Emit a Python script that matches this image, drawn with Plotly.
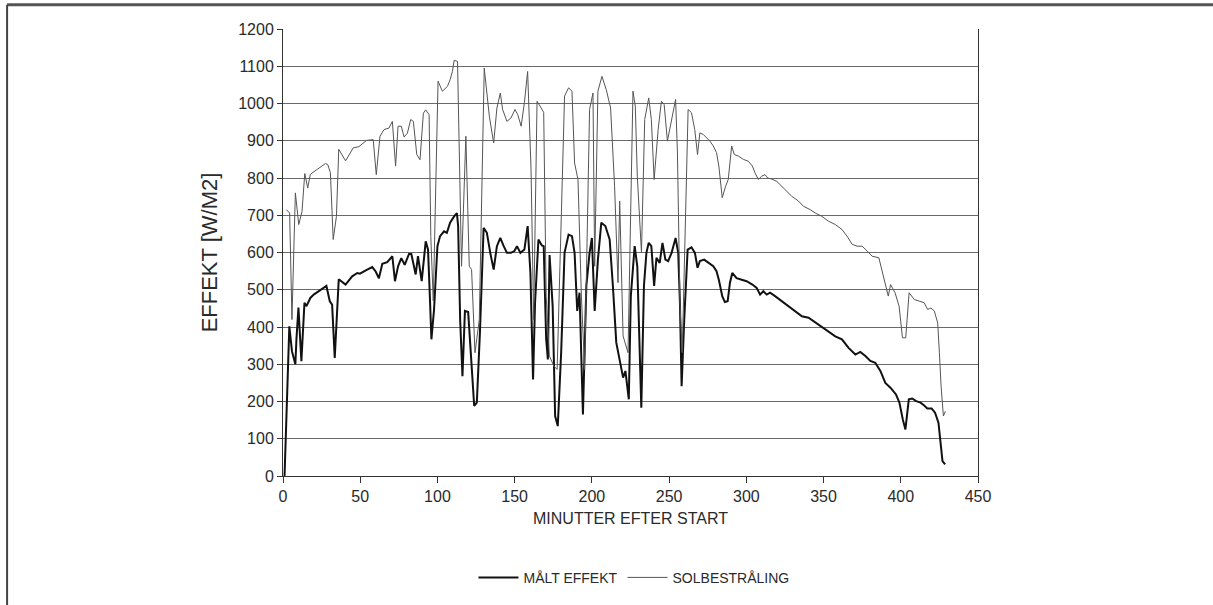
import plotly.graph_objects as go

# MÅLT EFFEKT (measured power)
malt_min = [1.0, 3.0, 4.1, 5.8, 6.9, 8.0, 8.7, 10.0, 11.9, 13.9, 15.2, 17.7, 19.9, 23.2, 26.4, 28.1, 30.3, 31.8,
            33.5, 35.1, 36.1, 40.5, 44.8, 48.1, 49.8, 54.5, 57.8, 60.0, 62.1, 64.3, 67.5, 70.8, 72.5, 74.5, 76.6,
            78.8, 81.6, 83.1, 85.9, 87.4, 89.8, 92.4, 93.9, 95.0, 96.1, 97.8, 100.0, 101.7, 104.3, 106.1, 108.2,
            110.8, 112.6, 113.4, 114.7, 116.2, 117.8, 119.9, 121.6, 123.8, 125.5, 127.5, 129.9, 132.0, 134.2,
            136.4, 138.5, 140.7, 142.9, 145.0, 147.6, 149.8, 151.5, 153.7, 156.3, 158.4, 160.2, 161.9, 163.2,
            165.4, 167.6, 168.8, 170.4, 171.5, 172.6, 174.6, 176.2, 177.9, 180.1, 182.3, 184.9, 187.1, 188.8,
            190.5, 192.0, 194.2, 196.4, 198.5, 200.0, 201.8, 203.9, 206.1, 208.7, 211.5, 213.6, 215.8, 220.2,
            221.7, 223.9, 225.2, 227.7, 229.4, 232.0, 233.7, 235.3, 236.8, 238.5, 240.3, 241.8, 243.9, 245.7,
            247.6, 249.4, 251.6, 254.2, 255.9, 257.0, 258.1, 259.8, 262.0, 264.5, 266.7, 268.4, 269.9, 272.7,
            275.3, 278.6, 280.7, 282.2, 284.4, 286.1, 287.9, 289.4, 290.9, 293.7, 297.0, 300.2, 303.9, 306.7,
            308.9, 311.0, 313.2, 315.4, 318.6, 323.0, 327.3, 331.6, 336.0, 340.3, 344.6, 348.9, 353.2, 357.6,
            361.9, 366.2, 370.6, 373.8, 377.1, 380.3, 383.5, 386.8, 390.0, 393.3, 396.9, 399.1, 401.3, 403.0,
            405.2, 407.4, 410.0, 412.8, 415.0, 417.2, 420.0, 422.2, 424.4, 425.9, 427.0, 428.7]
malt_val = [0, 250, 402, 335, 313, 300, 367, 452, 308, 465, 456, 478, 487, 496, 505, 510, 469, 460,
            317, 447, 528, 514, 536, 545, 543, 554, 561, 549, 531, 570, 574, 590, 523, 563, 585,
            567, 596, 596, 541, 590, 523, 630, 608, 492, 367, 447, 617, 644, 657, 653, 680,
            697, 706, 671, 420, 268, 443, 440, 322, 188, 197, 385, 666, 653, 599,
            554, 617, 639, 617, 599, 599, 604, 617, 599, 608, 671, 545, 259, 465,
            635, 619, 617, 367, 313, 593, 456, 161, 134, 331, 599, 648, 644, 599,
            443, 492, 165, 510, 599, 639, 443, 581, 680, 671, 635, 510, 358, 264,
            282, 206, 483, 617, 563, 183, 510, 599, 626, 617, 510, 586, 572, 626,
            581, 577, 599, 639, 599, 465, 241, 420, 608, 614, 599, 559, 577, 581,
            572, 563, 550, 527, 483, 467, 469, 519, 545, 531, 527, 523, 514, 505,
            487, 496, 487, 492, 483, 469, 456, 443, 429, 425, 413, 400, 389, 375,
            367, 344, 326, 333, 322, 309, 304, 282, 250, 237, 219, 197, 152, 125,
            206, 208, 201, 197, 190, 181, 181, 170, 143, 89, 40, 31]

# SOLBESTRÅLING (solar irradiance)
sol_min = [2.2, 4.3, 5.8, 8.0, 10.2, 12.3, 14.1, 16.0, 17.7, 23.2, 27.5, 29.0, 30.7, 32.5, 34.6, 36.1, 40.5,
           45.5, 49.1, 54.1, 58.4, 60.4, 62.8, 65.4, 68.6, 70.8, 72.9, 74.5, 76.6, 78.4, 80.5, 82.7, 84.4,
           86.6, 88.7, 90.9, 92.4, 94.6, 95.7, 97.3, 100.4, 103.2, 106.5, 108.2, 109.7, 110.8, 113.0, 115.6,
           118.4, 120.6, 122.1, 124.3, 127.1, 130.3, 133.6, 136.4, 138.5, 140.7, 142.2, 145.0, 147.6, 150.2,
           152.0, 154.2, 156.3, 158.4, 160.6, 162.3, 164.5, 166.7, 168.8, 170.4, 172.5, 175.4, 177.5, 182.3,
           184.9, 187.1, 188.8, 191.0, 193.2, 195.3, 198.5, 200.7, 201.8, 203.9, 206.5, 209.3, 212.1, 214.7,
           216.9, 218.0, 220.2, 223.4, 226.6, 228.1, 229.4, 232.1, 234.2, 236.8, 238.5, 240.3, 242.9, 245.0,
           246.8, 248.9, 251.6, 254.2, 255.4, 257.0, 258.5, 260.2, 262.3, 264.5, 266.6, 268.4, 269.9, 272.1,
           274.2, 276.4, 278.6, 280.7, 282.2, 284.4, 286.6, 288.3, 290.5, 292.2, 294.8, 298.1, 301.3, 303.9,
           305.6, 307.8, 310.0, 312.1, 313.9, 316.5, 319.7, 323.0, 326.2, 329.4, 333.8, 337.0, 341.4, 344.6,
           348.9, 353.2, 357.6, 361.9, 365.2, 368.5, 371.7, 375.0, 378.2, 381.5, 385.8, 388.4, 390.6, 391.9,
           393.4, 396.3, 398.9, 401.1, 403.2, 405.4, 408.7, 411.9, 415.2, 417.4, 419.5, 421.7, 423.9, 425.0,
           426.1, 427.6, 428.9]
sol_val = [715, 706, 420, 760, 675, 710, 812, 773, 810, 827, 839, 836, 814, 635, 697, 877, 846,
           881, 884, 901, 903, 809, 912, 930, 934, 952, 832, 939, 939, 910, 920, 957, 952,
           863, 849, 974, 983, 970, 643, 470, 1060, 1033, 1046, 1064, 1086, 1116, 1113, 563,
           912, 563, 554, 331, 420, 1095, 966, 894, 988, 1028, 984, 952, 961, 984,
           970, 939, 1002, 1086, 823, 420, 1006, 991, 976, 483, 322, 295, 286, 1020,
           1042, 1033, 840, 796, 483, 286, 984, 1028, 563, 1033, 1073, 1037, 988, 778,
           519, 738, 376, 331, 1033, 993, 805, 599, 957, 1015, 957, 796, 930, 1006,
           997, 899, 957, 1011, 867, 465, 331, 599, 984, 975, 930, 863, 921, 917,
           908, 899, 886, 868, 832, 747, 778, 796, 886, 863, 859, 850, 845, 832,
           814, 796, 805, 809, 800, 797, 791, 778, 764, 751, 738, 724, 715, 706,
           697, 684, 675, 662, 644, 622, 617, 617, 604, 590, 586, 545, 510, 483,
           514, 492, 456, 371, 371, 492, 474, 469, 465, 447, 451, 443, 411, 331,
           241, 161, 174]

x_ticks = [0, 50, 100, 150, 200, 250, 300, 350, 400, 450]
y_ticks = [0, 100, 200, 300, 400, 500, 600, 700, 800, 900, 1000, 1100, 1200]

FONT = "Liberation Sans, Arial, sans-serif"
INK = "#2a2a2a"

fig = go.Figure()
fig.add_trace(go.Scatter(x=malt_min, y=malt_val, mode="lines", name="MÅLT EFFEKT",
                         line=dict(color="#111111", width=2)))
fig.add_trace(go.Scatter(x=sol_min, y=sol_val, mode="lines", name="SOLBESTRÅLING",
                         line=dict(color="#555555", width=1)))

fig.update_layout(
    width=1213, height=605,
    margin=dict(l=283, r=235, t=29, b=128),
    paper_bgcolor="white", plot_bgcolor="white",
    font=dict(family=FONT, color=INK, size=15),
    showlegend=True,
    legend=dict(orientation="h", x=0.505, y=-0.225, xanchor="center", yanchor="middle",
                font=dict(size=14, family=FONT, color=INK), itemwidth=40,
                bgcolor="rgba(0,0,0,0)"),
    xaxis=dict(range=[0, 450], tickvals=x_ticks, ticktext=[str(v) for v in x_ticks],
               showgrid=False, zeroline=False, showline=True, linecolor="#333333", linewidth=1,
               mirror=False, ticks="outside", ticklen=6, tickcolor="#333333",
               tickfont=dict(size=16, family=FONT, color=INK),
               title=dict(text="MINUTTER EFTER START", font=dict(size=16, family=FONT, color=INK),
                          standoff=8)),
    yaxis=dict(range=[0, 1200], tickvals=y_ticks, ticktext=[str(v) for v in y_ticks],
               showgrid=True, gridcolor="#6a6a6a", gridwidth=1, zeroline=False,
               showline=True, linecolor="#333333", linewidth=1, mirror=True,
               ticks="outside", ticklen=5, tickcolor="#333333",
               tickfont=dict(size=16, family=FONT, color=INK),
               title=dict(text="EFFEKT [W/M2]", font=dict(size=22, family=FONT, color=INK),
                          standoff=14)),
    shapes=[
        dict(type="line", xref="paper", yref="paper", x0=-0.397, x1=1.34, y0=1.054, y1=1.054,
             line=dict(color="#555555", width=3)),
        dict(type="line", xref="paper", yref="paper", x0=-0.397, x1=-0.397, y0=1.054, y1=-0.29,
             line=dict(color="#444444", width=2)),
    ],
)

fig.write_html("out.html")
